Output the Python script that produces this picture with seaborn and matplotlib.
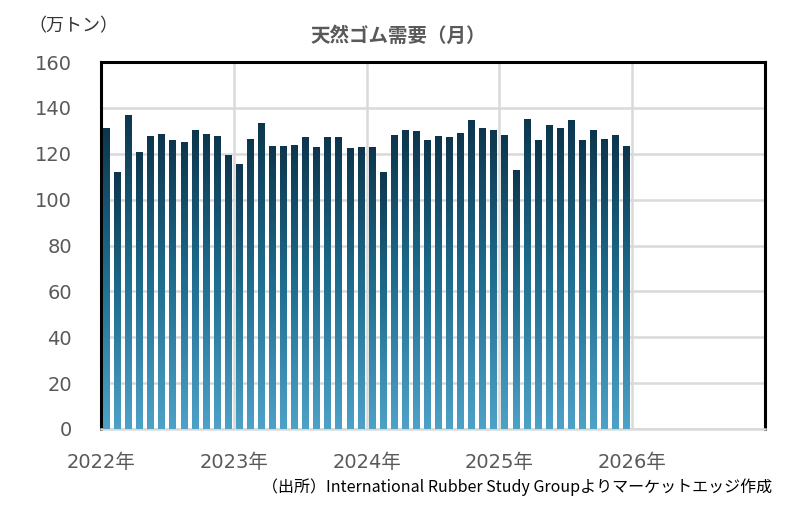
import numpy as np
import pandas as pd
import matplotlib
matplotlib.use("Agg")
import matplotlib.pyplot as plt
import seaborn as sns
from matplotlib.colors import LinearSegmentedColormap

# ---- data (万トン), monthly 2022-01 .. 2025-12 ----
months = [f"{y}-{m:02d}" for y in range(2022, 2026) for m in range(1, 13)]
demand = [131.1, 111.9, 136.8, 120.4, 127.7, 128.5, 125.9, 125.0, 130.3, 128.5, 127.7, 119.3,
          115.4, 126.3, 133.3, 123.3, 123.3, 123.7, 127.2, 122.8, 127.2, 127.2, 122.4, 122.8,
          122.8, 111.9, 128.1, 130.3, 129.8, 125.9, 127.7, 127.2, 129.0, 134.6, 131.1, 130.3,
          128.1, 112.8, 135.1, 125.9, 132.5, 131.1, 134.6, 125.9, 130.3, 126.3, 128.1, 123.3]
year_labels = ["2022年", "2023年", "2024年", "2025年", "2026年", ""]
yticks = [0, 20, 40, 60, 80, 100, 120, 140, 160]

sns.set_style("white")
plt.rcParams['font.family'] = ['Noto Sans CJK JP', 'DejaVu Sans']
tick_family = ['DejaVu Sans', 'Noto Sans CJK JP']

fig = plt.figure(figsize=(7.88, 5.08), dpi=100)
ax = fig.add_axes([101/788, 1-429/508, (765-101)/788, (429-62)/508])

df = pd.DataFrame({"month": months, "demand": demand})
sns.barplot(data=df, x="month", y="demand", ax=ax, width=0.63,
            color="#1d6a8c", saturation=1, zorder=3)

ax.set_xlim(-0.5, 59.5)
ax.set_ylim(0, 160)

# gradient fill for each bar
cmap = LinearSegmentedColormap.from_list("g", ["#4ea1c7", "#1f6e90", "#0d364d"])
grad = np.linspace(0, 1, 256).reshape(-1, 1)
for p in ax.patches:
    x0, w, h = p.get_x(), p.get_width(), p.get_height()
    ax.imshow(grad, cmap=cmap, origin="lower", aspect="auto",
              extent=[x0, x0 + w, 0, h], zorder=3, interpolation="bilinear")
    p.set_visible(False)
ax.set_xlim(-0.5, 59.5)
ax.set_ylim(0, 160)

# grid / ticks
ax.set_yticks(yticks)
ax.set_yticklabels([str(v) for v in yticks], fontsize=14, color="#595959",
                   family=tick_family)
xt = [-0.5 + 12 * i for i in range(6)]
ax.set_xticks(xt)
ax.set_xticklabels(year_labels, fontsize=14, color="#595959", family=tick_family)
ax.grid(True, color="#d9d9d9", linewidth=1.8, zorder=0)
ax.set_axisbelow(True)
ax.tick_params(axis="y", length=0, pad=21)
ax.tick_params(axis="x", length=7, width=1.8, color="#d9d9d9", pad=10)
ax.set_xlabel("")
ax.set_ylabel("")

for s in ["left", "top", "right"]:
    ax.spines[s].set_color("black")
    ax.spines[s].set_linewidth(2.2)
ax.spines["bottom"].set_color("#d9d9d9")
ax.spines["bottom"].set_linewidth(1.8)

fig.text(0.505, 1 - 36/508, "天然ゴム需要（月）", ha="center", va="center",
         fontsize=14, fontweight="bold", color="#595959")
fig.text(28/788, 1 - 26/508, "（万トン）", ha="left", va="center",
         fontsize=13, color="#333333")
fig.text(772/788, 1 - 487/508,
         "（出所）International Rubber Study Groupよりマーケットエッジ作成",
         ha="right", va="center", fontsize=11.5, color="black")

fig.savefig("out.png", dpi=100)
